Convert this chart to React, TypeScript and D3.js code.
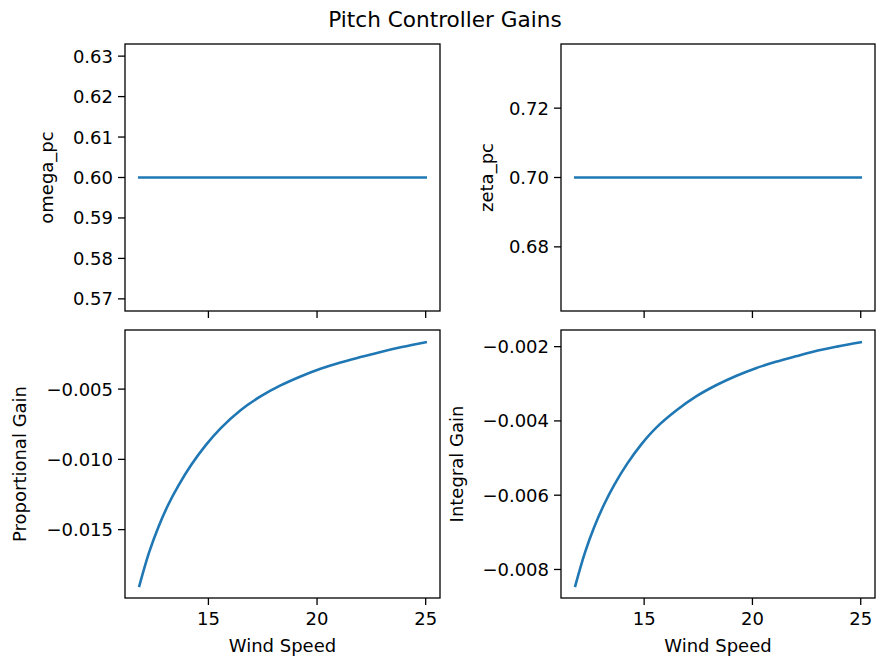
import React, { useEffect } from 'react';
import * as d3 from 'd3';

// wind speeds (m/s)
const windSpeed = [11.82, 12.27, 12.7, 13.15, 13.62, 14.22, 14.87, 15.56, 16.48, 17.4, 18.32, 19.24, 20.16, 21.08, 22.0, 22.84, 23.9, 25];

// gains
const omegaPc = windSpeed.map(() => 0.6);
const zetaPc = windSpeed.map(() => 0.7);
const kp = [-0.019, -0.01662, -0.01481, -0.01323, -0.01187, -0.01037, -0.009, -0.00779, -0.0065, -0.00552, -0.00474, -0.0041, -0.00355, -0.0031, -0.00272, -0.00239, -0.00201, -0.00166];
const ki = [-0.00844, -0.00754, -0.00685, -0.00625, -0.00572, -0.00515, -0.00463, -0.00418, -0.00372, -0.00334, -0.00304, -0.00279, -0.00258, -0.00241, -0.00226, -0.00213, -0.002, -0.00188];

// tick values
const xTicks = [15, 20, 25];
const omegaTicks = [0.57, 0.58, 0.59, 0.6, 0.61, 0.62, 0.63];
const zetaTicks = [0.68, 0.7, 0.72];
const kpTicks = [-0.015, -0.01, -0.005];
const kiTicks = [-0.008, -0.006, -0.004, -0.002];

const W = 876;
const H = 657;
const FONT = '"DejaVu Sans", sans-serif';
const BLUE = '#1f77b4';
const TICK = 7;

// matplotlib style limits: 5% margin, constant data expanded by 5% of value
function limits(vals: number[]): [number, number] {
  let lo = d3.min(vals) as number;
  let hi = d3.max(vals) as number;
  if (lo === hi) {
    const d = Math.abs(lo) * 0.05;
    lo -= d;
    hi += d;
  }
  const m = (hi - lo) * 0.05;
  return [lo - m, hi + m];
}

type PanelProps = {
  x0: number; x1: number; y0: number; y1: number;
  values: number[];
  yTicks: number[];
  yFmt: (v: number) => string;
  yLabel: string;
  yLabelX: number;
  showXLabels: boolean;
};

function Panel({ x0, x1, y0, y1, values, yTicks, yFmt, yLabel, yLabelX, showXLabels }: PanelProps) {
  const x = d3.scaleLinear().domain(limits(windSpeed)).range([x0, x1]);
  const y = d3.scaleLinear().domain(limits(values)).range([y1, y0]);
  const line = d3.line<number>()
    .x((_, i) => x(windSpeed[i]))
    .y((d) => y(d))
    .curve(d3.curveCatmullRom.alpha(0.5));

  return (
    <g>
      <path d={line(values) || ''} fill="none" stroke={BLUE} strokeWidth={2.6} strokeLinecap="square" />
      <rect x={x0} y={y0} width={x1 - x0} height={y1 - y0} fill="none" stroke="#000" strokeWidth={1.3} />
      {xTicks.map((t) => (
        <g key={t}>
          <line x1={x(t)} x2={x(t)} y1={y1} y2={y1 + TICK} stroke="#000" strokeWidth={1.3} />
          {showXLabels && (
            <text x={x(t)} y={y1 + 27} textAnchor="middle" fontSize={18} fill="#000">{t}</text>
          )}
        </g>
      ))}
      {yTicks.map((t) => (
        <g key={t}>
          <line x1={x0 - TICK} x2={x0} y1={y(t)} y2={y(t)} stroke="#000" strokeWidth={1.3} />
          <text x={x0 - TICK - 5} y={y(t)} dy="0.36em" textAnchor="end" fontSize={18} fill="#000">{yFmt(t)}</text>
        </g>
      ))}
      <text
        transform={`translate(${yLabelX},${(y0 + y1) / 2}) rotate(-90)`}
        textAnchor="middle"
        fontSize={18}
        fill="#000"
      >{yLabel}</text>
      {showXLabels && (
        <text x={(x0 + x1) / 2} y={651.5} textAnchor="middle" fontSize={18} fill="#000">Wind Speed</text>
      )}
    </g>
  );
}

export default function App() {
  useEffect(() => {
    document.body.style.margin = '0';
  }, []);

  const f2 = d3.format('.2f');
  const f3 = d3.format('.3f');

  return (
    <svg width={W} height={H} style={{ display: 'block', background: '#fff', fontFamily: FONT }}>
      <text x={445} y={26.5} textAnchor="middle" fontSize={21.6} fill="#000">Pitch Controller Gains</text>
      <Panel x0={125} x1={440} y0={44} y1={311} values={omegaPc} yTicks={omegaTicks} yFmt={f2}
        yLabel="omega_pc" yLabelX={53} showXLabels={false} />
      <Panel x0={561} x1={875} y0={44} y1={311} values={zetaPc} yTicks={zetaTicks} yFmt={f2}
        yLabel="zeta_pc" yLabelX={493} showXLabels={false} />
      <Panel x0={125} x1={440} y0={330} y1={598} values={kp} yTicks={kpTicks} yFmt={f3}
        yLabel="Proportional Gain" yLabelX={25.5} showXLabels={true} />
      <Panel x0={561} x1={875} y0={330} y1={598} values={ki} yTicks={kiTicks} yFmt={f3}
        yLabel="Integral Gain" yLabelX={463} showXLabels={true} />
    </svg>
  );
}
